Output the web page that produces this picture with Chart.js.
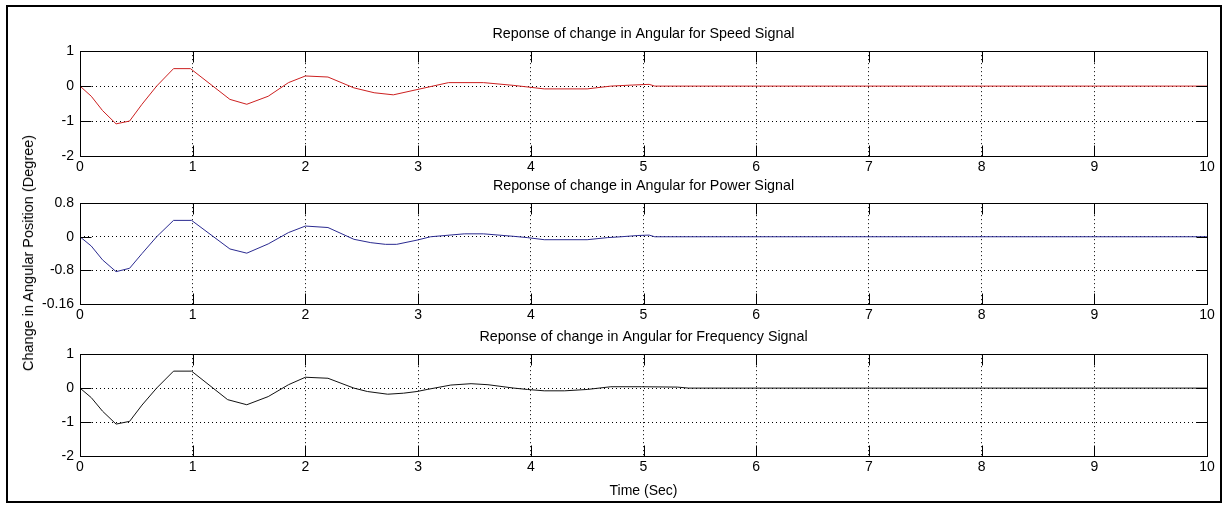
<!DOCTYPE html>
<html>
<head>
<meta charset="utf-8">
<script src="https://cdn.jsdelivr.net/npm/chart.js@4/dist/chart.umd.min.js"></script>
<style>
  body { margin: 0; background: #fff; width: 1227px; height: 506px; overflow: hidden; position: relative; font-family: 'Liberation Sans', Arial, sans-serif; }
  #frame { position: absolute; left: 6px; top: 5px; width: 1216px; height: 498px; border: 2px solid #000; box-sizing: border-box; }
  canvas { position: absolute; left: 0; }
  #ylabel { position: absolute; left: 28px; top: 253px; transform: translate(-50%, -50%) rotate(-90deg); white-space: nowrap; font-size: 14.5px; color: #000; }
</style>
</head>
<body>
<div id="frame"></div>
<canvas id="speedChart" width="1227" height="155" style="top:25px"></canvas>
<canvas id="powerChart" width="1227" height="151" style="top:177px"></canvas>
<canvas id="freqChart" width="1227" height="172" style="top:328px"></canvas>
<div id="ylabel">Change in Angular Position (Degree)</div>
<script>
// Speed signal
const speedTime  = [0, 0.1, 0.2, 0.32, 0.44, 0.55, 0.68, 0.83, 0.98, 1.33, 1.48, 1.67, 1.85, 2.0, 2.2, 2.43, 2.61, 2.78, 2.99, 3.27, 3.58, 3.85, 4.12, 4.5, 4.71, 4.9, 5.05, 5.1, 10];
const speedValue = [0, -0.29, -0.7, -1.08, -1.0, -0.52, 0, 0.5, 0.5, -0.38, -0.52, -0.29, 0.1, 0.29, 0.26, -0.05, -0.19, -0.25, -0.1, 0.1, 0.1, 0.02, -0.08, -0.08, 0, 0.03, 0.05, 0, 0];

// Power signal
const powerTime  = [0, 0.1, 0.2, 0.32, 0.44, 0.55, 0.68, 0.83, 0.99, 1.33, 1.48, 1.67, 1.85, 2.0, 2.2, 2.43, 2.58, 2.71, 2.81, 2.99, 3.11, 3.41, 3.58, 3.85, 3.97, 4.12, 4.5, 4.68, 4.8, 4.95, 5.05, 5.1, 10];
const powerValue = [0, -0.22, -0.55, -0.83, -0.75, -0.4, 0, 0.39, 0.39, -0.29, -0.39, -0.17, 0.1, 0.255, 0.22, -0.06, -0.14, -0.18, -0.18, -0.08, 0, 0.07, 0.07, 0.01, -0.02, -0.07, -0.07, -0.02, 0, 0.03, 0.04, 0, 0];

// Frequency signal
const freqTime  = [0, 0.1, 0.2, 0.32, 0.44, 0.55, 0.68, 0.83, 0.99, 1.31, 1.48, 1.67, 1.85, 2.0, 2.2, 2.43, 2.55, 2.73, 2.87, 2.99, 3.08, 3.29, 3.47, 3.62, 3.85, 3.97, 4.12, 4.3, 4.5, 4.71, 4.98, 5.3, 5.4, 10];
const freqValue = [0, -0.28, -0.68, -1.06, -0.98, -0.5, 0, 0.5, 0.5, -0.34, -0.49, -0.25, 0.1, 0.32, 0.29, 0, -0.1, -0.18, -0.15, -0.1, -0.04, 0.09, 0.13, 0.1, 0, -0.04, -0.08, -0.08, -0.04, 0.04, 0.04, 0.03, 0, 0];

// Tick labels
const timeTicks = [0, 1, 2, 3, 4, 5, 6, 7, 8, 9, 10];
const speedTicks = [-2, -1, 0, 1];
const speedTickLabels = ['-2', '-1', '0', '1'];
const powerTicks = [-1.6, -0.8, 0, 0.8];
const powerTickLabels = ['-0.16', '-0.8', '0', '0.8'];
const freqTicks = [-2, -1, 0, 1];
const freqTickLabels = ['-2', '-1', '0', '1'];

const FONT = "'Liberation Sans', Arial, sans-serif";

//MATLAB style box and inward ticks
const boxPlugin = {
    id: 'box',
    afterDraw(chart) {
        const ctx = chart.ctx;
        const a = chart.chartArea;
        const L = Math.round(a.left) + 0.5, R = Math.round(a.right) + 0.5;
        const T = Math.round(a.top) + 0.5, B = Math.round(a.bottom) + 0.5;
        const len = 11;
        ctx.save();
        ctx.strokeStyle = '#000';
        ctx.lineWidth = 1;
        ctx.strokeRect(L, T, R - L, B - T);
        ctx.beginPath();
        chart.scales.x.ticks.forEach(t => {
            const px = Math.round(chart.scales.x.getPixelForValue(t.value)) + 0.5;
            ctx.moveTo(px, B); ctx.lineTo(px, B - len);
            ctx.moveTo(px, T); ctx.lineTo(px, T + len);
        });
        chart.scales.y.ticks.forEach(t => {
            const py = Math.round(chart.scales.y.getPixelForValue(t.value)) + 0.5;
            ctx.moveTo(L, py); ctx.lineTo(L + len, py);
            ctx.moveTo(R, py); ctx.lineTo(R - len, py);
        });
        ctx.stroke();
        ctx.restore();
    }
};

function makeChart(id, title, times, values, color, yTicks, yLabels, xHeight, showXTitle)
{
    const ctx = document.getElementById(id).getContext('2d');
    return new Chart(ctx, {
        type: 'line',
        data: {
            datasets: [{
                data: times.map((t, i) => ({x: t, y: values[i]})),
                borderColor: color,
                borderWidth: 1,
                pointRadius: 0,
                tension: 0,
                fill: false
            }]
        },
        options: {
            responsive: false,
            animation: false,
            devicePixelRatio: 1,
            layout: { padding: { top: 0, left: 0, right: 20, bottom: 0 } },
            plugins: {
                legend: { display: false },
                tooltip: { enabled: false },
                title: {
                    display: true,
                    fullSize: false,   // centre over the plot box like MATLAB
                    text: title,
                    color: '#000',
                    font: { family: FONT, size: 14.3, weight: 'normal' },
                    padding: { top: 0, bottom: 9 }
                }
            },
            scales: {
                x: {
                    type: 'linear',
                    min: 0,
                    max: 10,
                    afterBuildTicks: s => { s.ticks = timeTicks.map(v => ({value: v})); },
                    afterFit: s => { s.height = xHeight; },
                    grid: { color: '#000', lineWidth: 1, drawTicks: false },
                    border: { display: false, dash: [1, 3] },
                    ticks: {
                        color: '#000',
                        padding: 3,
                        maxRotation: 0,
                        autoSkip: false,
                        font: { family: FONT, size: 14 }
                    },
                    title: {
                        display: showXTitle,
                        text: 'Time (Sec)',
                        color: '#000',
                        font: { family: FONT, size: 14 },
                        padding: { top: 0, bottom: 0 }
                    }
                },
                y: {
                    min: yTicks[0],
                    max: yTicks[yTicks.length - 1],
                    afterBuildTicks: s => { s.ticks = yTicks.map(v => ({value: v})); },
                    afterFit: s => { s.width = 80; },
                    grid: { color: '#000', lineWidth: 1, drawTicks: false },
                    border: { display: false, dash: [1, 3] },
                    ticks: {
                        color: '#000',
                        padding: 6,
                        autoSkip: false,
                        font: { family: FONT, size: 14 },
                        callback: (v, i) => yLabels[i]
                    }
                }
            }
        },
        plugins: [boxPlugin]
    });
}

makeChart('speedChart', 'Reponse of change in Angular for Speed Signal', speedTime, speedValue, '#cc2020', speedTicks, speedTickLabels, 24, false);
makeChart('powerChart', 'Reponse of change in Angular for Power Signal', powerTime, powerValue, '#2a2a90', powerTicks, powerTickLabels, 24, false);
makeChart('freqChart', 'Reponse of change in Angular for Frequency Signal', freqTime, freqValue, '#111111', freqTicks, freqTickLabels, 44, true);
</script>
</body>
</html>
